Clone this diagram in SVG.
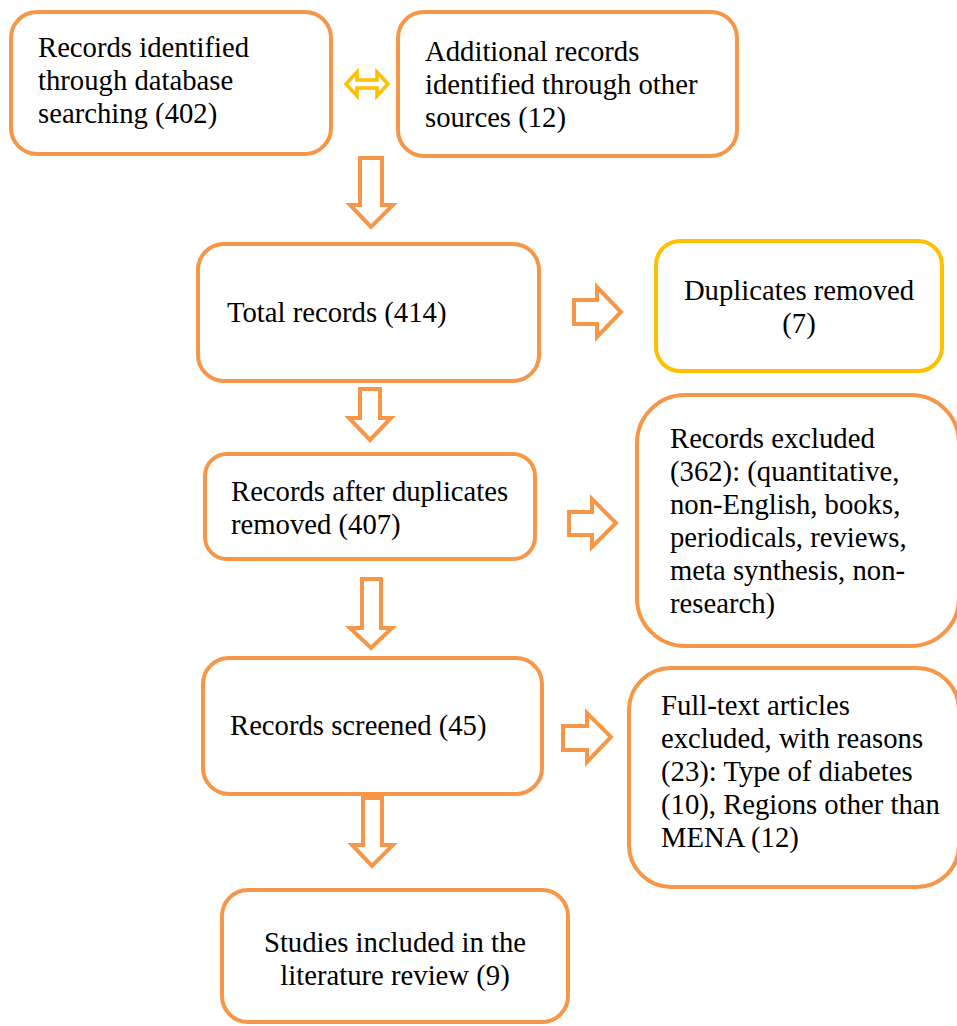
<svg xmlns="http://www.w3.org/2000/svg" width="957" height="1026" viewBox="0 0 957 1026" font-family="'Liberation Serif', 'Times New Roman', serif" font-size="28.7">
<style>
.box{fill:#fff;stroke:#F79646;stroke-width:4}
.ybox{fill:#fff;stroke:#FFC000;stroke-width:4}
.arr{fill:#fff;stroke:#F79646;stroke-width:4;stroke-linejoin:miter}
.yarr{fill:#fff;stroke:#FFC000;stroke-width:3.5}
text{fill:#000}
.c{text-anchor:middle}
</style>
<rect width="957" height="1026" fill="#fff"/>
<g id="connectors">
<polygon class="yarr" points="346,84 357,72 357,80 377,80 377,72 388,84 377,96 377,88 357,88 357,96"/>
<polygon class="arr" points="360,158 382,158 382,205 393,205 371,227 350,205 360,205"/>
<polygon class="arr" points="574,300 597,300 597,287 621,312 597,337 597,324 574,324"/>
<polygon class="arr" points="360,389 380,389 380,418 391,418 370,440 349,418 360,418"/>
<polygon class="arr" points="569,512 592,512 592,499 616,523 592,547 592,535 569,535"/>
<polygon class="arr" points="362,579 381,579 381,628 392,628 371,648 350,628 362,628"/>
<polygon class="arr" points="563,726 587,726 587,713 611,737 587,762 587,750 563,750"/>
<polygon class="arr" points="363,798 382,798 382,845 393,845 372,866 352,845 363,845"/>
</g>
<g id="n1">
<rect class="box" x="11" y="12" width="320" height="142" rx="26"/>
<text x="38" y="57">Records identified</text>
<text x="38" y="90">through database</text>
<text x="38" y="123">searching (402)</text>
</g>
<g id="n2">
<rect class="box" x="398" y="12" width="339" height="144" rx="26"/>
<text x="425" y="61">Additional records</text>
<text x="425" y="94">identified through other</text>
<text x="425" y="127">sources (12)</text>
</g>
<g id="n3">
<rect class="box" x="198" y="244" width="341" height="137" rx="26"/>
<text x="227" y="322">Total records (414)</text>
</g>
<g id="n4">
<rect class="ybox" x="656" y="241" width="286" height="130" rx="24"/>
<text class="c" x="799" y="300">Duplicates removed</text>
<text class="c" x="799" y="333">(7)</text>
</g>
<g id="n5">
<rect class="box" x="205" y="454" width="330" height="105" rx="22"/>
<text x="231" y="501">Records after duplicates</text>
<text x="231" y="534">removed (407)</text>
</g>
<g id="n6">
<rect class="box" x="637" y="395" width="322" height="251" rx="48"/>
<text x="670" y="448">Records excluded</text>
<text x="670" y="481">(362): (quantitative,</text>
<text x="670" y="514">non-English, books,</text>
<text x="670" y="547">periodicals, reviews,</text>
<text x="670" y="580">meta synthesis, non-</text>
<text x="670" y="613">research)</text>
</g>
<g id="n7">
<rect class="box" x="203" y="658" width="339" height="136" rx="26"/>
<text x="230" y="735">Records screened (45)</text>
</g>
<g id="n8">
<rect class="box" x="629" y="668" width="330" height="219" rx="42"/>
<text x="661" y="715">Full-text articles</text>
<text x="661" y="748">excluded, with reasons</text>
<text x="661" y="781">(23): Type of diabetes</text>
<text x="661" y="814">(10), Regions other than</text>
<text x="661" y="847">MENA (12)</text>
</g>
<g id="n9">
<rect class="box" x="222" y="890" width="346" height="132" rx="26"/>
<text class="c" x="395" y="952">Studies included in the</text>
<text class="c" x="395" y="985">literature review (9)</text>
</g>
</svg>
